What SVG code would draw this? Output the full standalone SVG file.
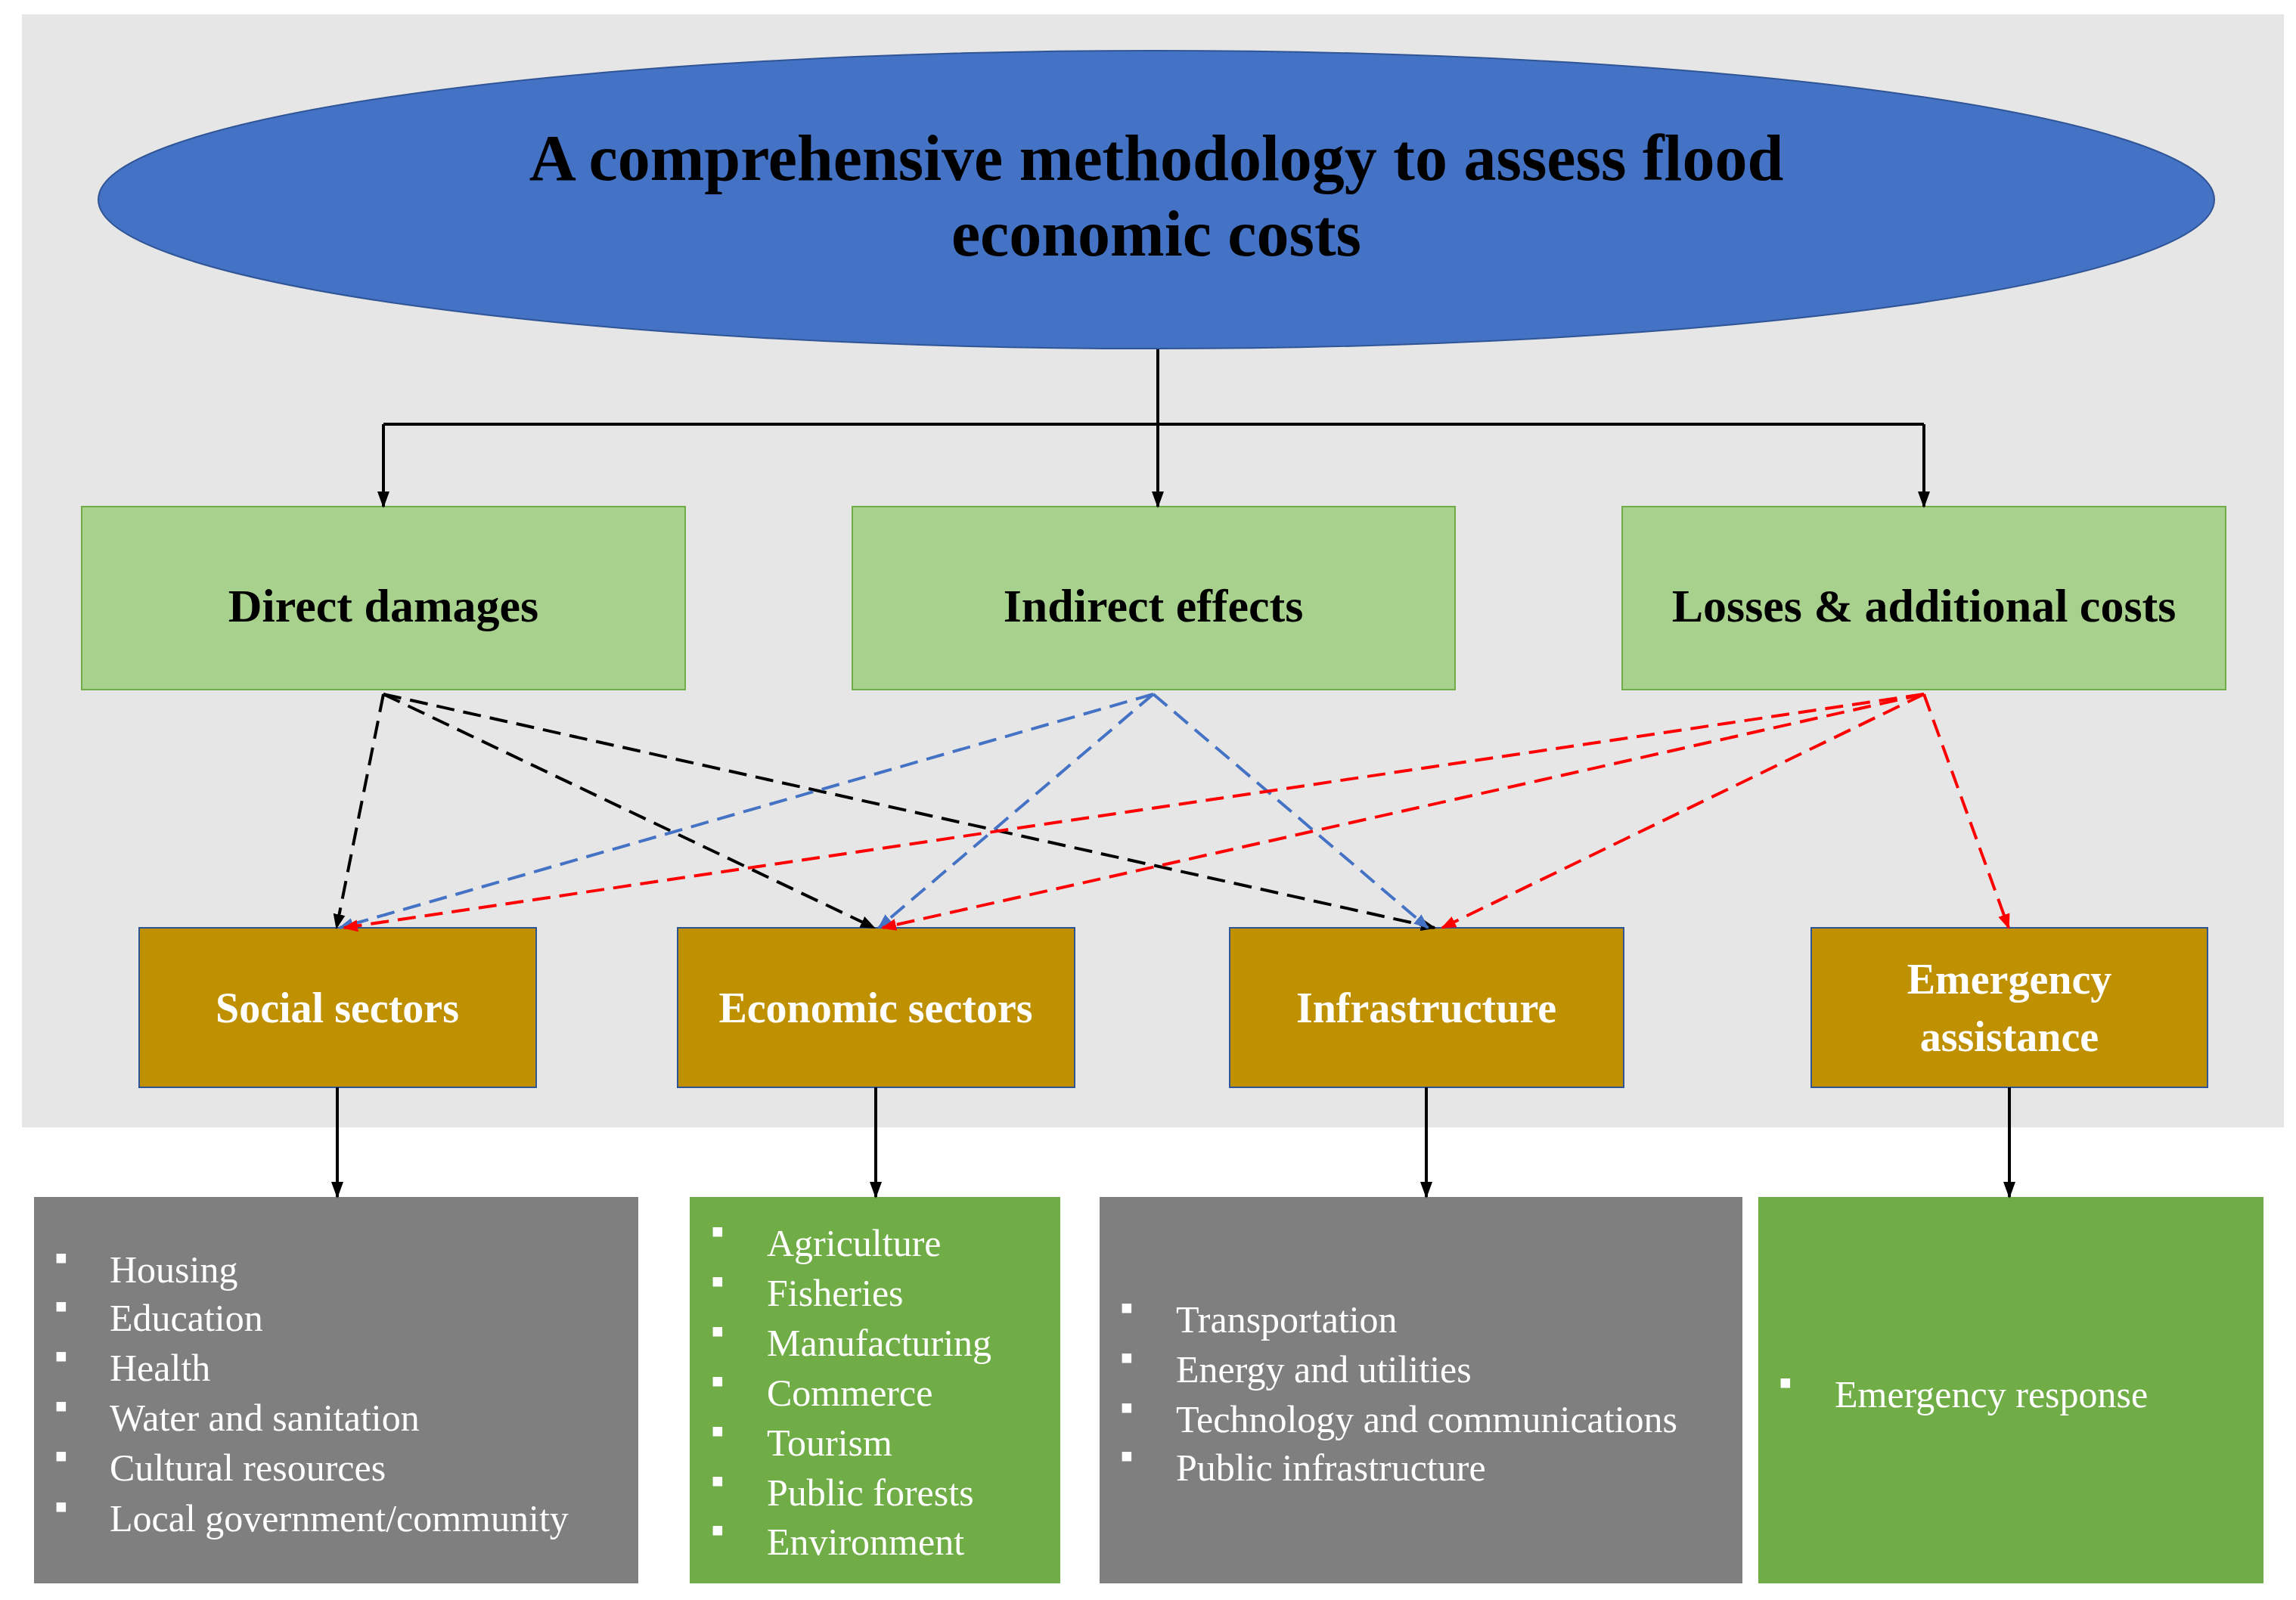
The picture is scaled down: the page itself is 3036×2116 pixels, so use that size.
<svg xmlns="http://www.w3.org/2000/svg" width="3036" height="2116" viewBox="0 0 3036 2116">
<defs>
<marker id="ak" markerWidth="10" markerHeight="10" refX="9" refY="5" orient="auto" markerUnits="userSpaceOnUse" viewBox="0 0 10 10"><path d="M0,0 L10,5 L0,10 z" fill="#000"/></marker>
<marker id="ab" markerWidth="20" markerHeight="20" refX="18" refY="10" orient="auto" markerUnits="userSpaceOnUse" viewBox="0 0 20 20"><path d="M0,2 L20,10 L0,18 z" fill="#4472C4"/></marker>
<marker id="ar" markerWidth="20" markerHeight="20" refX="18" refY="10" orient="auto" markerUnits="userSpaceOnUse" viewBox="0 0 20 20"><path d="M0,2 L20,10 L0,18 z" fill="#FF0000"/></marker>
<marker id="ad" markerWidth="20" markerHeight="20" refX="18" refY="10" orient="auto" markerUnits="userSpaceOnUse" viewBox="0 0 20 20"><path d="M0,2 L20,10 L0,18 z" fill="#000"/></marker>
<marker id="as" markerWidth="22" markerHeight="22" refX="20" refY="11" orient="auto" markerUnits="userSpaceOnUse" viewBox="0 0 22 22"><path d="M0,3 L22,11 L0,19 z" fill="#000"/></marker>
</defs>
<style>
.t{font-family:"Liberation Serif",serif}
.hb{font-weight:bold;font-size:62px;text-anchor:middle;fill:#000}
.gb{font-weight:bold;font-size:56px;text-anchor:middle;fill:#fff}
.li{font-size:50px;fill:#fff}
.s{stroke:#000;stroke-width:4;fill:none}
.dk{stroke:#000;stroke-width:4;stroke-dasharray:24 12;fill:none}
.db{stroke:#4472C4;stroke-width:4;stroke-dasharray:24 12;fill:none}
.dr{stroke:#FF0000;stroke-width:4;stroke-dasharray:24 12;fill:none}
.grn{fill:#A9D18E;stroke:#70AD47;stroke-width:2}
.gld{fill:#BF9000;stroke:#2F5597;stroke-width:2}
</style>
<rect x="0" y="0" width="3036" height="2116" fill="#fff"/>
<rect x="29" y="19" width="2991" height="1472" fill="#E7E6E6"/>
<g id="title"><ellipse cx="1529" cy="264" rx="1399" ry="197" fill="#4472C4" stroke="#2F5597" stroke-width="2"/>
<text class="t" x="1529" y="238" font-size="86" font-weight="bold" text-anchor="middle">A comprehensive methodology to assess flood</text>
<text class="t" x="1529" y="338" font-size="86" font-weight="bold" text-anchor="middle">economic costs</text></g>
<g id="direct"><rect class="grn" x="108" y="670" width="798" height="242"/><text class="t hb" x="507" y="822">Direct damages</text></g>
<g id="indirect"><rect class="grn" x="1127" y="670" width="797" height="242"/><text class="t hb" x="1525" y="822">Indirect effects</text></g>
<g id="losses"><rect class="grn" x="2145" y="670" width="798" height="242"/><text class="t hb" x="2544" y="822">Losses &amp; additional costs</text></g>
<g id="social"><rect class="gld" x="184" y="1227" width="525" height="211"/><text class="t gb" x="446" y="1352">Social sectors</text></g>
<g id="economic"><rect class="gld" x="896" y="1227" width="525" height="211"/><text class="t gb" x="1158" y="1352">Economic sectors</text></g>
<g id="infra"><rect class="gld" x="1626" y="1227" width="521" height="211"/><text class="t gb" x="1886" y="1352">Infrastructure</text></g>
<g id="emergency"><rect class="gld" x="2395" y="1227" width="524" height="211"/><text class="t gb" x="2657" y="1314">Emergency</text><text class="t gb" x="2657" y="1390">assistance</text></g>
<g id="list-social"><rect x="45" y="1583" width="799" height="511" fill="#7F7F7F"/>
<g class="t li"><text x="72" y="1680">▪</text><text x="145" y="1696">Housing</text>
<text x="72" y="1744">▪</text><text x="145" y="1760">Education</text>
<text x="72" y="1810">▪</text><text x="145" y="1826">Health</text>
<text x="72" y="1876">▪</text><text x="145" y="1892">Water and sanitation</text>
<text x="72" y="1942">▪</text><text x="145" y="1958">Cultural resources</text>
<text x="72" y="2009">▪</text><text x="145" y="2025">Local government/community</text></g></g>
<g id="list-economic"><rect x="912" y="1583" width="490" height="511" fill="#70AD47"/>
<g class="t li"><text x="940" y="1645">▪</text><text x="1014" y="1661">Agriculture</text>
<text x="940" y="1711">▪</text><text x="1014" y="1727">Fisheries</text>
<text x="940" y="1777">▪</text><text x="1014" y="1793">Manufacturing</text>
<text x="940" y="1843">▪</text><text x="1014" y="1859">Commerce</text>
<text x="940" y="1909">▪</text><text x="1014" y="1925">Tourism</text>
<text x="940" y="1975">▪</text><text x="1014" y="1991">Public forests</text>
<text x="940" y="2040">▪</text><text x="1014" y="2056">Environment</text></g></g>
<g id="list-infra"><rect x="1454" y="1583" width="850" height="511" fill="#7F7F7F"/>
<g class="t li"><text x="1481" y="1746">▪</text><text x="1555" y="1762">Transportation</text>
<text x="1481" y="1812">▪</text><text x="1555" y="1828">Energy and utilities</text>
<text x="1481" y="1878">▪</text><text x="1555" y="1894">Technology and communications</text>
<text x="1481" y="1942">▪</text><text x="1555" y="1958">Public infrastructure</text></g></g>
<g id="list-emergency"><rect x="2325" y="1583" width="668" height="511" fill="#70AD47"/>
<g class="t li"><text x="2352" y="1845">▪</text><text x="2426" y="1861">Emergency response</text></g></g>
<g id="connectors">
<path class="s" d="M1531,462 V561 M507,561 H2544"/>
<path class="s" marker-end="url(#as)" d="M507,561 V670"/>
<path class="s" marker-end="url(#as)" d="M1531,561 V670"/>
<path class="s" marker-end="url(#as)" d="M2544,561 V670"/>
<path class="s" marker-end="url(#as)" d="M446,1438 V1583"/>
<path class="s" marker-end="url(#as)" d="M1158,1438 V1583"/>
<path class="s" marker-end="url(#as)" d="M1886,1438 V1583"/>
<path class="s" marker-end="url(#as)" d="M2657,1438 V1583"/>
<path class="dk" marker-end="url(#ad)" d="M507,918 L445,1227"/>
<path class="dk" marker-end="url(#ad)" d="M507,918 L1156,1227"/>
<path class="dk" marker-end="url(#ad)" d="M507,918 L1897,1227"/>
<path class="db" marker-end="url(#ab)" d="M1525,918 L449,1227"/>
<path class="db" marker-end="url(#ab)" d="M1525,918 L1162,1227"/>
<path class="db" marker-end="url(#ab)" d="M1525,918 L1888,1227"/>
<path class="dr" marker-end="url(#ar)" d="M2544,918 L455,1227"/>
<path class="dr" marker-end="url(#ar)" d="M2544,918 L1167,1227"/>
<path class="dr" marker-end="url(#ar)" d="M2544,918 L1907,1227"/>
<path class="dr" marker-end="url(#ar)" d="M2544,918 L2656,1227"/>
</g>
</svg>
